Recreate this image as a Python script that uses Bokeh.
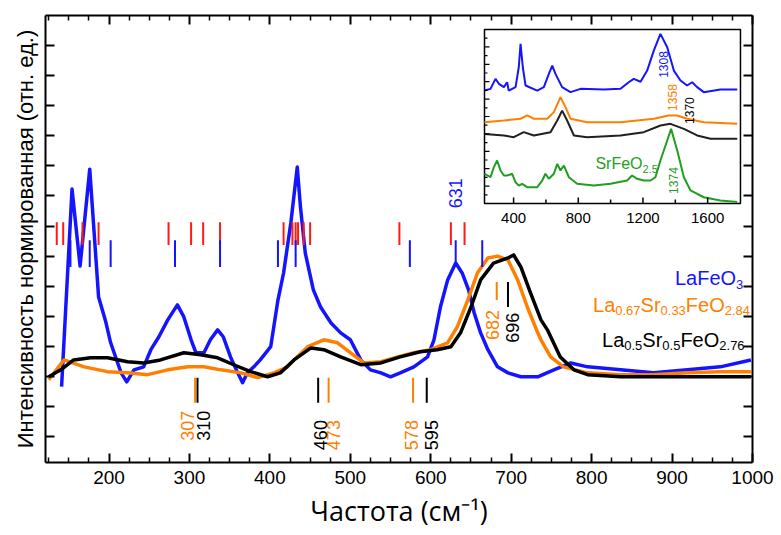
import numpy as np
from math import pi
from bokeh.plotting import figure
from bokeh.models import Range1d, LinearAxis, FixedTicker, Label, CustomJSTickFormatter
from bokeh.embed import file_html
from bokeh.resources import INLINE

# ---------------- main spectra (x: cm^-1, y: normalized intensity, arb. units) ----------------
lafeo3_x = [141, 154, 164, 176, 187, 196, 202, 215, 222, 231, 243, 252, 262, 273, 285, 293, 302, 308, 318, 326,
            335, 342, 351, 360, 366, 372, 380, 388, 401, 410, 417, 426, 434, 438, 444, 454, 463, 476, 488, 500,
            513, 525, 538, 550, 562, 579, 596, 604, 612, 621, 631, 639, 647, 654, 662, 671, 683, 696, 712, 733,
            753, 774, 795, 836, 877, 919, 960, 998]
lafeo3_y = [1.66, 8.23, 5.67, 8.89, 4.64, 3.81, 3.12, 2.12, 1.82, 2.22, 2.32, 2.89, 3.32, 3.88, 4.38, 3.98, 3.22, 2.79, 2.79, 3.22,
            3.55, 3.32, 2.65, 2.12, 1.79, 2.12, 2.32, 2.55, 2.99, 4.54, 5.44, 7.10, 8.96, 7.63, 6.10, 4.88, 4.31, 3.78, 3.45, 3.22,
            2.55, 2.22, 2.12, 1.99, 2.12, 2.32, 2.65, 3.22, 4.31, 5.21, 5.77, 5.44, 4.88, 4.11, 3.45, 2.89, 2.32, 2.12, 1.99, 1.99,
            2.22, 2.45, 2.32, 2.22, 2.12, 2.22, 2.32, 2.55]

lsfo33_x = [125, 144, 169, 198, 223, 248, 273, 298, 318, 339, 364, 385, 405, 422, 430, 447, 467, 484, 500, 517,
            538, 559, 579, 600, 621, 633, 646, 658, 671, 683, 696, 708, 720, 733, 737, 749, 765, 795, 836, 877,
            919, 960, 998]
lsfo33_y = [1.89, 2.55, 2.32, 2.16, 2.12, 2.06, 2.22, 2.32, 2.32, 2.22, 2.12, 1.96, 2.12, 2.32, 2.55, 2.99, 3.22, 3.12, 2.79, 2.45,
            2.49, 2.65, 2.79, 2.89, 3.12, 3.65, 4.54, 5.44, 5.94, 6.00, 5.87, 5.21, 4.31, 3.45, 3.22, 2.65, 2.32, 2.12, 2.06, 2.06,
            2.12, 2.16, 2.16]

lsfo50_x = [125, 140, 156, 177, 198, 223, 243, 264, 293, 314, 335, 355, 376, 397, 413, 430, 451, 467, 488, 513,
            538, 562, 587, 608, 625, 637, 650, 662, 678, 696, 703, 712, 724, 737, 745, 761, 778, 795, 836, 919, 998]
lsfo50_y = [1.99, 2.22, 2.55, 2.62, 2.62, 2.49, 2.45, 2.55, 2.79, 2.72, 2.62, 2.39, 2.16, 1.99, 2.12, 2.55, 2.95, 2.89, 2.65, 2.39,
            2.45, 2.65, 2.82, 2.89, 2.99, 3.45, 4.31, 5.21, 5.77, 5.94, 6.04, 5.64, 4.78, 3.88, 3.55, 2.65, 2.22, 2.06, 1.99, 1.99, 1.99]

# calculated mode positions (red) and LaFeO3 modes (blue)
red_modes = [135, 143, 167, 187, 274, 302, 317, 338, 417, 428, 432, 435, 442, 450, 561, 625, 642]
blue_modes = [152, 176, 202, 282, 338, 410, 432, 574, 631, 664]

# annotated peak positions
low_orange = [307, 473, 578]
low_black = [310, 460, 595]
high_orange = [682]
high_black = [696]
peak_blue = [631]

# ---------------- inset spectra ----------------
in_lafeo3_x = [220, 257, 288, 309, 340, 360, 370, 412, 432, 443, 457, 474, 546, 587, 618, 639, 659, 700, 752, 814,
               958, 1061, 1112, 1143, 1185, 1226, 1267, 1308, 1350, 1391, 1432, 1473, 1504, 1535, 1576, 1679, 1783]
in_lafeo3_y = [6.49, 6.59, 7.16, 6.88, 6.69, 6.97, 6.49, 6.69, 7.83, 9.18, 7.83, 6.78, 6.49, 6.69, 7.45, 7.93, 7.45, 6.69, 6.40, 6.59,
               6.55, 6.59, 6.97, 7.16, 7.00, 7.64, 8.79, 9.75, 8.98, 7.64, 7.07, 6.78, 6.97, 6.69, 6.40, 6.55, 6.55]
in_lsfo33_x = [220, 340, 443, 484, 525, 608, 649, 690, 721, 752, 855, 1061, 1164, 1267, 1358, 1412, 1473, 1576, 1783]
in_lsfo33_y = [4.67, 4.77, 4.87, 5.06, 4.87, 4.87, 5.25, 6.11, 5.54, 4.87, 4.67, 4.67, 4.77, 4.87, 5.06, 5.06, 4.87, 4.67, 4.58]
in_lsfo50_x = [220, 340, 401, 463, 525, 628, 670, 700, 731, 773, 855, 1061, 1205, 1308, 1370, 1453, 1535, 1618, 1783]
in_lsfo50_y = [4.00, 3.91, 3.81, 4.10, 3.91, 4.10, 4.77, 5.34, 4.77, 3.91, 3.81, 3.91, 4.10, 4.48, 4.58, 4.29, 3.91, 3.72, 3.72]
in_srfeo_x = [220, 257, 278, 298, 319, 340, 360, 391, 412, 432, 453, 484, 546, 577, 597, 618, 649, 670, 690, 711,
              742, 793, 896, 999, 1102, 1133, 1164, 1205, 1247, 1277, 1308, 1350, 1374, 1412, 1453, 1494, 1576, 1679, 1783]
in_srfeo_y = [1.71, 1.51, 2.09, 2.47, 1.90, 1.61, 1.61, 1.71, 1.22, 1.03, 1.13, 0.94, 0.94, 1.32, 1.71, 1.42, 1.71, 2.28, 1.90, 2.18,
              1.51, 1.13, 1.03, 1.13, 1.32, 1.61, 1.42, 1.32, 1.32, 1.51, 2.47, 3.62, 4.29, 3.05, 1.51, 0.75, 0.36, 0.17, 0.08]
in_peaks = ["1308", "1358", "1370", "1374"]
in_peak_vals = [1308, 1358, 1370, 1374]
in_xticks = [400, 800, 1200, 1600]
in_xminor = [600, 1000, 1400]

# ---------------- styling ----------------
BLUE = "#1414ff"
ORANGE = "#ff8000"
BLACK = "#000000"
GREEN = "#1f9e1f"
RED = "#ff1a1a"
FONT = "Liberation Sans"

XR = (121, 1000)
YR = (-0.86, 14.0)
FW, FH = 707, 447
# inset placement expressed as extra ranges spanning the whole frame
IX = (-2494.9, 1877.4)
IY = (-14.885, 10.805)
ix_px = FW / (IX[1] - IX[0])
iy_px = FH / (IY[1] - IY[0])
INSET_BOX = (220, 1803, 0, 10)

p = figure(width=778, height=533, x_range=Range1d(*XR), y_range=Range1d(*YR),
           output_backend="svg", toolbar_location=None,
           min_border_left=45, min_border_right=26, min_border_top=15, min_border_bottom=71)
p.outline_line_color = None
p.grid.visible = False
p.background_fill_color = "white"
p.extra_x_ranges = {"ix": Range1d(*IX)}
p.extra_y_ranges = {"iy": Range1d(*IY)}

xmaj = list(range(200, 1001, 100))
xmin = [v for v in range(125, 1000, 25) if v % 100 != 0]
ymaj = list(range(0, 14))


def style_axis(ax, labels):
    ax.axis_line_width = 2
    ax.axis_line_color = "black"
    ax.major_tick_in = 9
    ax.major_tick_out = 0
    ax.minor_tick_in = 5
    ax.minor_tick_out = 0
    ax.major_tick_line_width = 2
    ax.minor_tick_line_width = 1.5
    if not labels:
        ax.formatter = CustomJSTickFormatter(code="return ''")
        ax.major_label_text_font_size = "6px"
        ax.major_label_standoff = 0


xa = p.xaxis[0]
xa.ticker = FixedTicker(ticks=xmaj, minor_ticks=xmin)
style_axis(xa, True)
xa.major_label_text_font = FONT
xa.major_label_text_font_size = "19px"
xa.major_label_text_color = "black"
xa.major_label_standoff = 8
xa.axis_label = "Частота (см⁻¹)"
xa.axis_label_text_font = "Open Sans"
xa.axis_label_text_font_size = "27px"
xa.axis_label_text_font_style = "normal"
xa.axis_label_text_color = "black"
xa.axis_label_standoff = 5

ya = p.yaxis[0]
ya.ticker = FixedTicker(ticks=ymaj, minor_ticks=[])
style_axis(ya, False)
ya.axis_label = "Интенсивность нормированная (отн. ед.)"
ya.axis_label_text_font = FONT
ya.axis_label_text_font_size = "22px"
ya.axis_label_text_font_style = "normal"
ya.axis_label_text_color = "black"
ya.axis_label_standoff = 8

top = LinearAxis(ticker=FixedTicker(ticks=xmaj, minor_ticks=xmin))
style_axis(top, False)
p.add_layout(top, "above")
right = LinearAxis(ticker=FixedTicker(ticks=ymaj, minor_ticks=[]))
style_axis(right, False)
p.add_layout(right, "right")

# ---------------- main curves ----------------
p.line(lafeo3_x, lafeo3_y, line_color=BLUE, line_width=3.5, line_join="round")
p.line(lsfo33_x, lsfo33_y, line_color=ORANGE, line_width=3.5, line_join="round")
p.line(lsfo50_x, lsfo50_y, line_color=BLACK, line_width=3.5, line_join="round")

# mode markers
p.segment(x0=red_modes, x1=red_modes, y0=6.37, y1=7.13, line_color=RED, line_width=2)
p.segment(x0=blue_modes, x1=blue_modes, y0=5.64, y1=6.53, line_color=BLUE, line_width=2)

# annotation dashes
p.segment(x0=low_orange, x1=low_orange, y0=1.13, y1=1.96, line_color=ORANGE, line_width=2)
p.segment(x0=low_black, x1=low_black, y0=1.13, y1=1.96, line_color=BLACK, line_width=2)
p.segment(x0=high_orange, x1=high_orange, y0=4.54, y1=5.14, line_color=ORANGE, line_width=2)
p.segment(x0=high_black, x1=high_black, y0=4.31, y1=5.14, line_color=BLACK, line_width=2)


def vlabel(xv, yv, txt, color, dx, size="18px", xr=None, yr=None):
    kw = {}
    if xr:
        kw["x_range_name"] = xr
        kw["y_range_name"] = yr
    p.add_layout(Label(x=xv, y=yv, text=txt, angle=pi / 2, x_offset=dx,
                       text_align="center", text_baseline="middle",
                       text_font=FONT, text_font_size=size, text_color=color, **kw))


for v, dx in zip(low_orange, [-8, 4.5, -1.5]):
    vlabel(v, 0.36 if v < 400 else 0.05, str(v), ORANGE, dx)
for v, dx in zip(low_black, [6, 2, 5]):
    vlabel(v, 0.36 if v < 400 else 0.05, str(v), BLACK, dx)
for v in high_orange:
    vlabel(v, 3.71, str(v), ORANGE, -4)
for v in high_black:
    vlabel(v, 3.62, str(v), BLACK, 5)
for v in peak_blue:
    vlabel(v, 8.09, str(v), BLUE, 0)

# ---------------- rich-text legend labels ----------------
W = {'L': 556, 'a': 556, 'F': 611, 'e': 556, 'O': 778, 'S': 667, 'r': 333, '.': 278}
for d in "0123456789":
    W[d] = 556


def rich(x, y, parts, color, fmain, fsub, drop, xr=None, yr=None):
    off = 0.0
    kw = {}
    if xr:
        kw["x_range_name"] = xr
        kw["y_range_name"] = yr
    for s, sub in parts:
        fs = fsub if sub else fmain
        p.add_layout(Label(x=x, y=y, x_offset=off, y_offset=-drop if sub else 0, text=s,
                           text_font=FONT, text_font_size=f"{fs}px", text_color=color,
                           text_align="left", text_baseline="alphabetic", **kw))
        off += sum(W.get(c, 556) for c in s) * fs / 1000.0


rich(903.6, 5.27, [("LaFeO", False), ("3", True)], BLUE, 20, 13, 6)
rich(801.7, 4.38, [("La", False), ("0.67", True), ("Sr", False), ("0.33", True), ("FeO", False), ("2.84", True)],
     ORANGE, 20, 13, 6)
rich(812.9, 3.22, [("La", False), ("0.5", True), ("Sr", False), ("0.5", True), ("FeO", False), ("2.76", True)],
     BLACK, 20, 13, 6)

# ---------------- inset ----------------
x0, x1, y0, y1 = INSET_BOX
p.quad(left=[x0], right=[x1], bottom=[y0], top=[y1], fill_color="white", line_color="black",
       line_width=1.5, x_range_name="ix", y_range_name="iy")
p.line(in_lafeo3_x, in_lafeo3_y, line_color=BLUE, line_width=2, x_range_name="ix", y_range_name="iy")
p.line(in_lsfo33_x, in_lsfo33_y, line_color=ORANGE, line_width=2, x_range_name="ix", y_range_name="iy")
p.line(in_lsfo50_x, in_lsfo50_y, line_color="#202020", line_width=2, x_range_name="ix", y_range_name="iy")
p.line(in_srfeo_x, in_srfeo_y, line_color=GREEN, line_width=2, x_range_name="ix", y_range_name="iy")

# inset ticks
p.segment(x0=in_xticks, x1=in_xticks, y0=y0, y1=y0 + 6 / iy_px, line_color="black", line_width=1.5,
          x_range_name="ix", y_range_name="iy")
p.segment(x0=in_xminor, x1=in_xminor, y0=y0, y1=y0 + 4 / iy_px, line_color="black", line_width=1.5,
          x_range_name="ix", y_range_name="iy")
in_y_major = list(np.arange(1, 10, 1.0))
in_y_minor = list(np.arange(0.5, 10, 1.0))
p.segment(x0=x0, x1=x0 + 5 / ix_px, y0=in_y_major, y1=in_y_major, line_color="black", line_width=1.2,
          x_range_name="ix", y_range_name="iy")
p.segment(x0=x0, x1=x0 + 3 / ix_px, y0=in_y_minor, y1=in_y_minor, line_color="black", line_width=1.2,
          x_range_name="ix", y_range_name="iy")
for t in in_xticks:
    p.add_layout(Label(x=t, y=y0, y_offset=-14, text=str(t), text_align="center", text_baseline="middle",
                       text_font=FONT, text_font_size="15px", text_color="black",
                       x_range_name="ix", y_range_name="iy"))

# inset peak labels
for txt, v, dx, yy, col in zip(in_peaks, in_peak_vals, [3, 4, 19, 2.5], [7.99, 6.09, 5.34, 1.32],
                               [BLUE, ORANGE, BLACK, GREEN]):
    vlabel(v, yy, txt, col, dx, size="12px", xr="ix", yr="iy")

rich(906, 2.30, [("SrFeO", False), ("2.5", True)], GREEN, 16, 11, 6, xr="ix", yr="iy")

open("out.html", "w").write(file_html(p, INLINE))
